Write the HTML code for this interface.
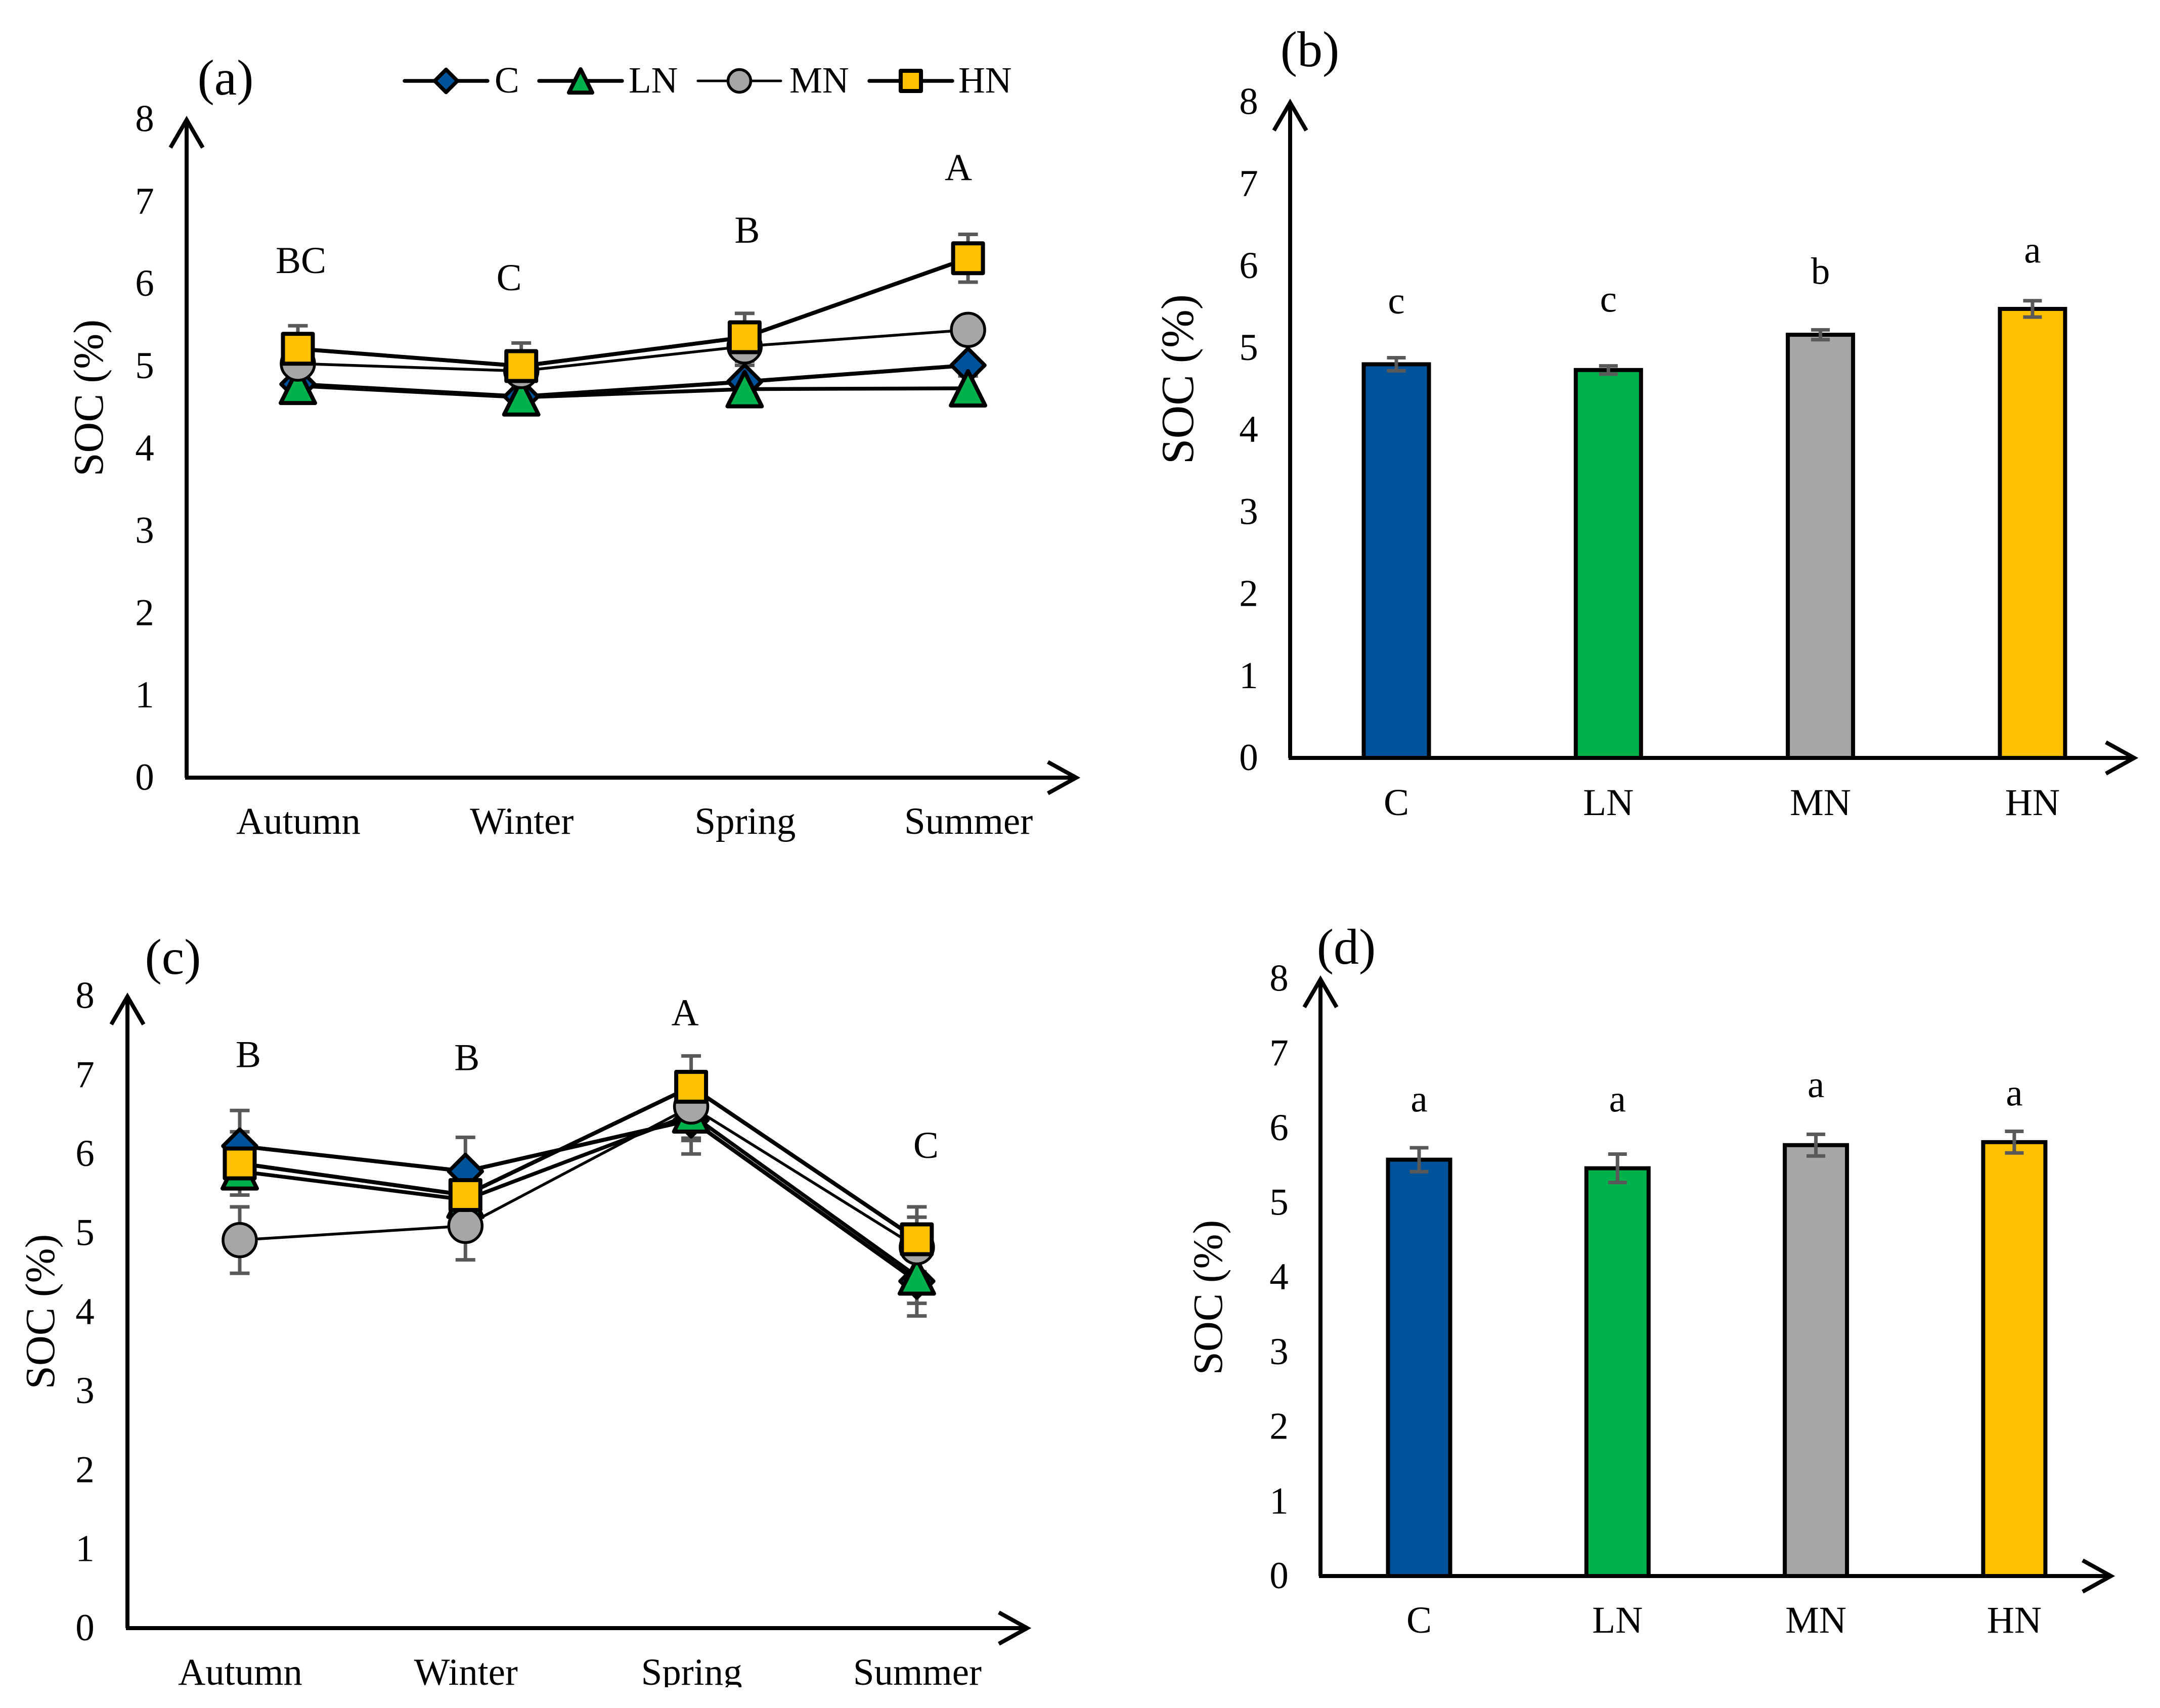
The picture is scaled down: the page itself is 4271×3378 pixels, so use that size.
<!DOCTYPE html>
<html lang="en">
<head>
<meta charset="utf-8">
<title>SOC panels</title>
<style>
html,body{margin:0;padding:0;background:#fff;}
svg{display:block;}
text{font-family:"Liberation Serif","Times New Roman",serif;fill:#000;}
</style>
</head>
<body>
<svg id="figure" xmlns="http://www.w3.org/2000/svg" width="4271" height="3378" viewBox="0 0 4271 3378">
  <rect x="0" y="0" width="4271" height="3378" fill="#ffffff"/>
  <g id="panel-a"></g>
  <g id="panel-b"></g>
  <g id="panel-c"></g>
  <g id="panel-d"></g>
  <g id="legend"></g>
  <rect x="0" y="3337" width="4271" height="41" fill="#ffffff"/>
</svg>
<script>
const seasons = ['Autumn', 'Winter', 'Spring', 'Summer'];
const treatments = ['C', 'LN', 'MN', 'HN'];
const yTicks = [0, 1, 2, 3, 4, 5, 6, 7, 8];

const panelAC = [4.78, 4.63, 4.81, 5.01];
const panelALN = [4.76, 4.62, 4.72, 4.73];
const panelAMN = [5.03, 4.94, 5.24, 5.44];
const panelAHN = [5.21, 5.00, 5.35, 6.31];
const panelAErrC = [0.2, 0.2, 0.2, 0.29];
const panelAErrLN = [0.15, 0.15, 0.15, 0.15];
const panelAErrMN = [0.15, 0.15, 0.15, 0.15];
const panelAErrHN = [0.28, 0.28, 0.29, 0.29];
const panelALetters = ['BC', 'C', 'B', 'A'];
const panelALetterLevels = [6.13, 5.92, 6.5, 7.26];

const panelCC = [6.10, 5.78, 6.43, 4.39];
const panelCLN = [5.78, 5.42, 6.50, 4.45];
const panelCMN = [4.91, 5.09, 6.60, 4.82];
const panelCHN = [5.88, 5.48, 6.85, 4.92];
const panelCErrC = [0.45, 0.43, 0.43, 0.44];
const panelCErrLN = [0.3, 0.3, 0.3, 0.34];
const panelCErrMN = [0.42, 0.43, 0.43, 0.38];
const panelCErrHN = [0.40, 0.40, 0.39, 0.41];
const panelCLetters = ['B', 'B', 'A', 'C'];
const panelCLetterLevels = [7.1, 7.06, 7.63, 5.95];

const panelBValues = [4.80, 4.73, 5.16, 5.475];
const panelBErrors = [0.08, 0.05, 0.06, 0.10];
const panelBLetters = ['c', 'c', 'b', 'a'];
const panelBLetterLevels = [5.42, 5.44, 5.78, 6.04];

const panelDValues = [5.575, 5.46, 5.77, 5.81];
const panelDErrors = [0.16, 0.19, 0.145, 0.145];
const panelDLetters = ['a', 'a', 'a', 'a'];
const panelDLetterLevels = [6.22, 6.22, 6.41, 6.3];

const SVGNS = 'http://www.w3.org/2000/svg';
const COLORS = {C: '#00539a', LN: '#00b14c', MN: '#a6a6a6', HN: '#ffc000'};
const WIDTHS = {C: 8, LN: 7.5, MN: 5.5, HN: 8};

function make(tag, attrs, parent) {
  const e = document.createElementNS(SVGNS, tag);
  for (const k in attrs) e.setAttribute(k, attrs[k]);
  parent.appendChild(e);
  return e;
}
function label(parent, x, y, str, size, anchor) {
  const t = make('text', {x: x, y: y, 'font-size': size, 'text-anchor': anchor || 'middle'}, parent);
  t.textContent = str;
  return t;
}
function linearY(y0, unit) {
  return function (v) { return y0 - v * unit; };
}
function drawAxes(parent, x0, y0, topY, rightX) {
  const yAxis = make('path', {d: 'M' + x0 + ' ' + y0 + 'V' + topY + 'M' + (x0 - 32) + ' ' + (topY + 55) + 'L' + x0 + ' ' + topY + 'L' + (x0 + 32) + ' ' + (topY + 55), fill: 'none', stroke: '#000', 'stroke-width': 8}, parent);
  
  
  const xAxis = make('path', {d: 'M' + (x0 - 3) + ' ' + y0 + 'H' + rightX + 'M' + (rightX - 56) + ' ' + (y0 - 31) + 'L' + rightX + ' ' + y0 + 'L' + (rightX - 56) + ' ' + (y0 + 31), fill: 'none', stroke: '#000', 'stroke-width': 8}, parent);
  
  
}
function drawYTicks(parent, yScale, cx) {
  yTicks.forEach(function (v) {
    const t = label(parent, cx, yScale(v) + 24, String(v), 75);
    
    
  });
}
function drawYTitle(parent, bx, cy, size) {
  const t = make('text', {transform: 'translate(' + bx + ',' + cy + ') rotate(-90)', 'font-size': size, 'text-anchor': 'middle'}, parent);
  t.textContent = 'SOC (%)';
  
  
}
function drawPanelTag(parent, cx, by, str) {
  const t = label(parent, cx, by, str, 100);
  
  
}
function drawErrorBar(parent, x, v, err, yScale, capW) {
  const top = yScale(v + err), bot = yScale(v - err);
  const p = make('path', {d: 'M' + x + ' ' + top + 'V' + bot + 'M' + (x - capW / 2) + ' ' + top + 'H' + (x + capW / 2) + 'M' + (x - capW / 2) + ' ' + bot + 'H' + (x + capW / 2), fill: 'none', stroke: '#595959', 'stroke-width': 7}, parent);
  return p;
}
function drawMarker(parent, kind, cx, cy, s) {
  const common = {fill: COLORS[kind], stroke: '#000', 'stroke-linejoin': 'round'};
  let m;
  if (kind === 'C') {
    m = make('path', Object.assign({d: 'M' + cx + ' ' + (cy - 33 * s) + 'L' + (cx + 33 * s) + ' ' + cy + 'L' + cx + ' ' + (cy + 33 * s) + 'L' + (cx - 33 * s) + ' ' + cy + 'Z', 'stroke-width': 7.5}, common), parent);
  } else if (kind === 'LN') {
    m = make('path', Object.assign({d: 'M' + cx + ' ' + (cy - 34 * s) + 'L' + (cx + 34 * s) + ' ' + (cy + 34 * s) + 'L' + (cx - 34 * s) + ' ' + (cy + 34 * s) + 'Z', 'stroke-width': 8}, common), parent);
  } else if (kind === 'MN') {
    m = make('circle', Object.assign({cx: cx, cy: cy, r: 33 * s, 'stroke-width': 5.5}, common), parent);
  } else {
    m = make('rect', Object.assign({x: cx - 29.5 * s, y: cy - 29.5 * s, width: 59 * s, height: 59 * s, 'stroke-width': 8}, common), parent);
  }
  return m;
}
function drawLinePanel(parent, cfg) {
  const yScale = linearY(cfg.y0, cfg.unit);
  const xScale = function (i) { return cfg.firstX + i * cfg.stepX; };
  drawAxes(parent, cfg.x0, cfg.y0, cfg.topY, cfg.rightX);
  drawYTicks(parent, yScale, cfg.tickX);
  drawYTitle(parent, cfg.titleX, cfg.titleY, cfg.titleSize);
  drawPanelTag(parent, cfg.tagX, cfg.tagY, cfg.tag);
  seasons.forEach(function (s, i) {
    const t = label(parent, xScale(i) + 1, cfg.catY, s, 75);
    
    
  });
  cfg.letters.forEach(function (s, i) {
    const t = label(parent, xScale(i) + cfg.letterDx[i], yScale(cfg.levels[i]), s, 75);
    
    
  });
  treatments.forEach(function (k) {
    cfg.series[k].forEach(function (v, i) {
      const b = drawErrorBar(parent, xScale(i), v, cfg.errors[k][i], yScale, 39);
      
      
    });
  });
  treatments.forEach(function (k) {
    const pts = cfg.series[k].map(function (v, i) { return xScale(i) + ',' + yScale(v); }).join(' ');
    const l = make('polyline', {points: pts, fill: 'none', stroke: '#000', 'stroke-width': WIDTHS[k]}, parent);
    
    
  });
  treatments.forEach(function (k) {
    cfg.series[k].forEach(function (v, i) {
      const m = drawMarker(parent, k, xScale(i), yScale(v), 1);
      
      
    });
  });
}
function drawBarPanel(parent, cfg) {
  const yScale = linearY(cfg.y0, cfg.unit);
  const xScale = function (i) { return cfg.firstX + i * cfg.stepX; };
  drawYTicks(parent, yScale, cfg.tickX);
  drawYTitle(parent, cfg.titleX, cfg.titleY, cfg.titleSize);
  drawPanelTag(parent, cfg.tagX, cfg.tagY, cfg.tag);
  treatments.forEach(function (k, i) {
    const top = yScale(cfg.values[i]);
    const r = make('rect', {x: xScale(i) - cfg.barW / 2, y: top, width: cfg.barW, height: cfg.y0 - top, fill: COLORS[k], stroke: '#000', 'stroke-width': 8}, parent);
    
    
    const b = drawErrorBar(parent, xScale(i), cfg.values[i], cfg.errors[i], yScale, 37);
    
    
    const t = label(parent, xScale(i), cfg.catY, k, 75);
    
    
    const s = label(parent, xScale(i), yScale(cfg.levels[i]), cfg.letters[i], 75);
    
    
  });
  drawAxes(parent, cfg.x0, cfg.y0, cfg.topY, cfg.rightX);
}

drawLinePanel(document.getElementById('panel-a'), {
  x0: 369, y0: 1538, unit: 162.8, topY: 237, rightX: 2128,
  firstX: 589, stepX: 441.7, tickX: 286, catY: 1649,
  titleX: 203, titleY: 787, titleSize: 84,
  tag: '(a)', tagX: 446, tagY: 187,
  letters: panelALetters, levels: panelALetterLevels, letterDx: [6, -24, 5, -19],
  series: {C: panelAC, LN: panelALN, MN: panelAMN, HN: panelAHN},
  errors: {C: panelAErrC, LN: panelAErrLN, MN: panelAErrMN, HN: panelAErrHN}
});
drawLinePanel(document.getElementById('panel-c'), {
  x0: 252, y0: 3220, unit: 156.3, topY: 1971, rightX: 2031,
  firstX: 474, stepX: 446.3, tickX: 168, catY: 3332,
  titleX: 107, titleY: 2594, titleSize: 83,
  tag: '(c)', tagX: 342, tagY: 1926,
  letters: panelCLetters, levels: panelCLetterLevels, letterDx: [17, 3, -12, 18],
  series: {C: panelCC, LN: panelCLN, MN: panelCMN, HN: panelCHN},
  errors: {C: panelCErrC, LN: panelCErrLN, MN: panelCErrMN, HN: panelCErrHN}
});
drawBarPanel(document.getElementById('panel-b'), {
  x0: 2551, y0: 1499, unit: 162.2, topY: 203, rightX: 4220,
  firstX: 2761, stepX: 419.3, barW: 129, tickX: 2469, catY: 1612,
  titleX: 2359, titleY: 750, titleSize: 91,
  tag: '(b)', tagX: 2590, tagY: 131,
  values: panelBValues, errors: panelBErrors, letters: panelBLetters, levels: panelBLetterLevels
});
drawBarPanel(document.getElementById('panel-d'), {
  x0: 2611, y0: 3117, unit: 147.7, topY: 1937, rightX: 4174,
  firstX: 2806, stepX: 392.3, barW: 123, tickX: 2529, catY: 3229,
  titleX: 2416, titleY: 2566, titleSize: 83,
  tag: '(d)', tagX: 2662, tagY: 1906,
  values: panelDValues, errors: panelDErrors, letters: panelDLetters, levels: panelDLetterLevels
});

const legendGroup = document.getElementById('legend');
const legendMarkerX = [882, 1148, 1462, 1801];
const legendTextX = [978, 1243, 1561, 1895];
treatments.forEach(function (k, i) {
  const l = make('line', {x1: legendMarkerX[i] - 82, x2: legendMarkerX[i] + 82, y1: 160, y2: 160, stroke: '#000', 'stroke-width': k === 'MN' ? 5 : 7.5, 'stroke-linecap': 'round'}, legendGroup);
  
  
  const m = drawMarker(legendGroup, k, legendMarkerX[i], 160, 0.68);
  
  
  const t = label(legendGroup, legendTextX[i], 183, k, 73, 'start');
  
  
});
</script>
</body>
</html>
